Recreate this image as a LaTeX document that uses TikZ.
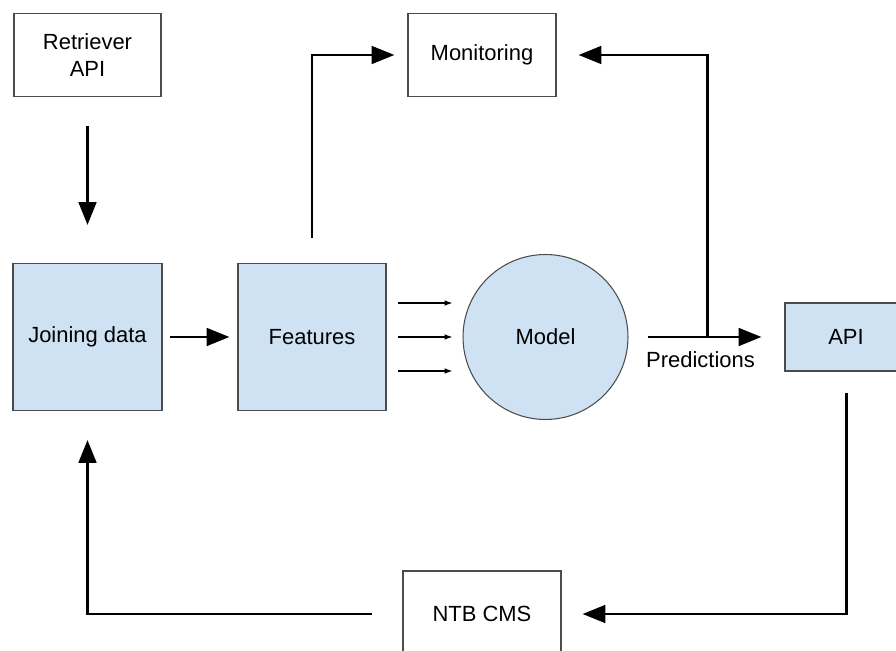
\documentclass[tikz,border=0pt]{standalone}
\usepackage{fontspec}
\setmainfont{Liberation Sans}
\usetikzlibrary{arrows.meta}

\definecolor{boxblue}{HTML}{CFE2F3}

\begin{document}
\begin{tikzpicture}[x=0.02cm, y=-0.02cm, >={Triangle[length=13pt,width=10pt]},
  font=\fontsize{12.5}{15.5}\selectfont,
  plain/.style={draw=black!70, line width=0.6pt, fill=white, align=center, inner sep=0pt},
  blue/.style={plain, fill=boxblue},
  flow/.style={->, line width=1.7pt},
  feed/.style={-{Latex[length=4.5pt,width=3.2pt]}, line width=0.6pt}]
\useasboundingbox (0,0) rectangle (896,651);
\node[plain, minimum width=2.94cm, minimum height=1.66cm] (retriever) at (87.5,55) {Retriever\\API};
\node[plain, minimum width=2.96cm, minimum height=1.66cm] (monitoring) at (482,55) {Monitoring};
\node[blue, minimum width=2.98cm, minimum height=2.94cm] (joining) at (87.5,337) {Joining data};
\node[blue, minimum width=2.96cm, minimum height=2.94cm] (features) at (312,337) {Features};
\node[blue, circle, minimum size=3.3cm] (model) at (545.5,337) {Model};
\node[blue, minimum width=2.44cm, minimum height=1.36cm] (api) at (846,337) {API};
\node[plain, minimum width=3.16cm, minimum height=1.72cm] (ntb) at (482,614) {NTB CMS};
\coordinate (split) at (707,337);
% data in
\draw[flow, shorten <=0.58cm, shorten >=0.76cm] (retriever.south) -- (joining.north);
\draw[flow, shorten <=0.14cm, shorten >=0.16cm] (joining.east) -- (features.west);
\draw[flow, shorten <=0.5cm, shorten >=0.26cm] (features.north) |- (monitoring.west);
% features into the model
\foreach \dy in {-34,0,34}
  \draw[feed, shorten <=0.22cm, shorten >=0.2cm] ([yshift=\dy*0.02cm]features.east) -- ([yshift=\dy*0.02cm]model.west);
% predictions out
\draw[flow, shorten <=0.38cm, shorten >=0.46cm] (model.east) -- node[below=4pt, xshift=-0.12cm]{Predictions} (api.west);
\draw[flow, shorten >=0.44cm] (split) |- (monitoring.east);
\draw[flow, shorten <=0.42cm, shorten >=0.42cm] (api.south) |- (ntb.east);
\draw[flow, shorten <=0.6cm, shorten >=0.58cm] (ntb.west) -| (joining.south);
\end{tikzpicture}
\end{document}
